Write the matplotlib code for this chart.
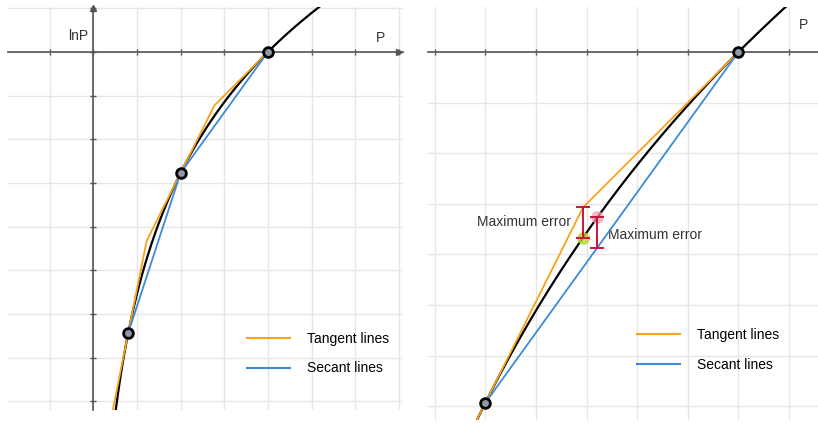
import numpy as np
import matplotlib.pyplot as plt
from matplotlib.ticker import MultipleLocator
from matplotlib.lines import Line2D

plt.rcParams['font.family'] = ['Liberation Sans', 'DejaVu Sans']

# points on lnP where the tangent / secant lines touch
left_points = [0.2, 0.5, 1.0]
right_points = [0.5, 1.0]

# visible window of each panel
left_xlim, left_ylim = (-0.486, 1.771), (-2.05, 0.257)
right_xlim, right_ylim = (0.387, 1.157), (-0.727, 0.089)
left_step, right_step = 0.25, 0.1

legend_labels = ['Tangent lines', 'Secant lines']

ORANGE = '#f7a21b'
BLUE = '#3d8ad8'
RED = '#c8143c'
AXC = '#555555'


def tangent(a, p):
    return np.log(a) + (p - a) / a


def tangent_envelope(points, p_start):
    pts = sorted(points)
    xs = [p_start]
    for a, b in zip(pts[:-1], pts[1:]):
        xs.append(a * b * np.log(b / a) / (b - a))
    xs.append(pts[-1])
    xs = np.array(xs)
    ys = np.min([tangent(a, xs) for a in pts], axis=0)
    return xs, ys


def setup(ax, xlim, ylim, step, yaxis):
    ax.set_xlim(*xlim)
    ax.set_ylim(*ylim)
    ax.set_aspect('equal', adjustable='box')
    ax.xaxis.set_major_locator(MultipleLocator(step))
    ax.yaxis.set_major_locator(MultipleLocator(step))
    ax.grid(True, color='#e6e6e6', lw=1)
    ax.set_axisbelow(True)
    ax.spines['top'].set_visible(False)
    ax.spines['right'].set_visible(False)
    ax.spines['bottom'].set_position(('data', 0))
    ax.spines['bottom'].set_color(AXC)
    ax.spines['bottom'].set_linewidth(1.2)
    ax.tick_params(axis='x', direction='inout', length=5, width=1, color=AXC,
                   labelbottom=False)
    if yaxis:
        ax.spines['left'].set_position(('data', 0))
        ax.spines['left'].set_color(AXC)
        ax.spines['left'].set_linewidth(1.2)
        ax.tick_params(axis='y', direction='inout', length=5, width=1, color=AXC,
                       labelleft=False)
    else:
        ax.spines['left'].set_visible(False)
        ax.tick_params(axis='y', length=0, labelleft=False)


def draw(ax, points, p_start):
    p = np.linspace(0.08, 1.5, 600)
    ax.plot(p, np.log(p), color='black', lw=1.6, zorder=3)
    tx, ty = tangent_envelope(points, p_start)
    ax.plot(tx, ty, color=ORANGE, lw=1.3, zorder=4)
    pts = np.array(sorted(points))
    ax.plot(pts, np.log(pts), color=BLUE, lw=1.3, zorder=4)
    ax.plot(pts, np.log(pts), 'o', ms=7, mfc='#8d99ab', mec='black', mew=2, zorder=6)


def legend(ax, anchor):
    handles = [Line2D([], [], color=ORANGE, lw=1.5), Line2D([], [], color=BLUE, lw=1.5)]
    ax.legend(handles, legend_labels, loc='upper left', bbox_to_anchor=anchor,
              frameon=False, fontsize=10, handlelength=3.1, handletextpad=1.2,
              labelspacing=1.1, borderpad=0, borderaxespad=0)


fig = plt.figure(figsize=(8.18, 4.25), dpi=100)
axl = fig.add_axes([8 / 818, 15 / 425, 395 / 818, 403 / 425])
axr = fig.add_axes([428 / 818, 5 / 425, 390 / 818, 413 / 425])

# left panel
setup(axl, left_xlim, left_ylim, left_step, True)
draw(axl, left_points, 0.1)
axl.plot([left_xlim[1] - 0.02], [0], marker='>', color=AXC, ms=5, clip_on=False)
axl.plot([0], [left_ylim[1] - 0.005], marker='^', color=AXC, ms=5, clip_on=False)
axl.text(-0.03, 0.05, 'lnP', ha='right', va='bottom', fontsize=10, color='#333333')
axl.text(1.615, 0.04, 'P', ha='left', va='bottom', fontsize=10, color='#333333')
legend(axl, (0.605, 0.193))

# right panel
setup(axr, right_xlim, right_ylim, right_step, False)
draw(axr, right_points, 0.47)
axr.text(1.12, 0.04, 'P', ha='left', va='bottom', fontsize=10, color='#333333')

a, b = right_points
p_tan = a * b * np.log(b / a) / (b - a)
p_sec = (b - a) / np.log(b / a)
y_tan = tangent(b, p_tan)
y_sec = np.log(a) + (np.log(b) - np.log(a)) * (p_sec - a) / (b - a)

for px, y1, y2 in [(p_tan, np.log(p_tan), y_tan), (p_sec, y_sec, np.log(p_sec))]:
    axr.errorbar([px], [(y1 + y2) / 2], yerr=[(y2 - y1) / 2], color=RED, lw=1.4,
                 capsize=5, capthick=1.4, zorder=7)
axr.plot([p_tan], [np.log(p_tan)], 'o', ms=8, color='#b6d630', alpha=0.8, zorder=6)
axr.plot([p_sec], [np.log(p_sec)], 'o', ms=8, color='#f4a0ac', alpha=0.7, zorder=6)
axr.annotate('Maximum error', (p_tan, (np.log(p_tan) + y_tan) / 2), xytext=(-12, 0),
             textcoords='offset pixels', ha='right', va='center', fontsize=10, color='#333333')
axr.annotate('Maximum error', (p_sec, (y_sec + np.log(p_sec)) / 2), xytext=(11, -3),
             textcoords='offset pixels', ha='left', va='center', fontsize=10, color='#333333')
legend(axr, (0.536, 0.222))

fig.savefig('out.png', dpi=100)
